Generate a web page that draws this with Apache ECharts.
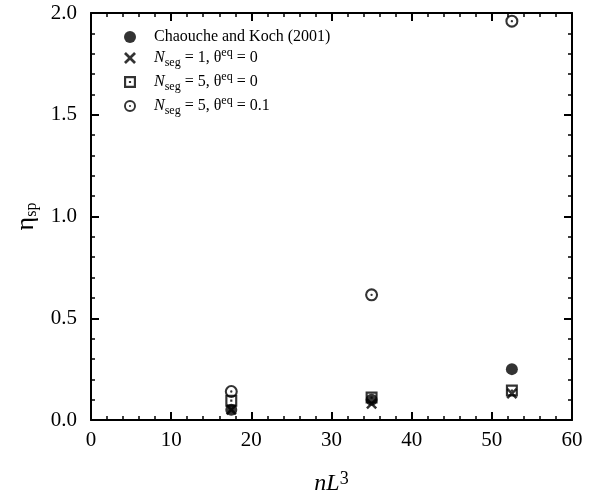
<!DOCTYPE html>
<html>
<head>
<meta charset="utf-8">
<script src="https://cdn.jsdelivr.net/npm/echarts@6/dist/echarts.min.js"></script>
<style>
  html, body { margin: 0; padding: 0; background: #fff; }
  #main { width: 591px; height: 501px; }
</style>
</head>
<body>
<div id="main"></div>
<script>
// data
var nL3 = [17.5, 35, 52.5];
var chaouche = [0.05, 0.10, 0.25];
var seg1 = [0.05, 0.08, 0.13];
var seg5 = [0.095, 0.11, 0.145];
var seg5theta = [0.14, 0.615, 1.96];

var xTicks = [0, 10, 20, 30, 40, 50, 60];
var yTicks = [0, 0.5, 1.0, 1.5, 2.0];

// marker shapes
var crossPath = "path://M0,1.6 L1.6,0 L5,3.4 L8.4,0 L10,1.6 L6.6,5 L10,8.4 L8.4,10 L5,6.6 L1.6,10 L0,8.4 L3.4,5 Z";
var boxDotPath = "path://M0,0 L10,0 L10,10 L0,10 Z M1.8,1.8 L1.8,8.2 L8.2,8.2 L8.2,1.8 Z M4.1,4.1 L5.9,4.1 L5.9,5.9 L4.1,5.9 Z";
var ringDotPath = "path://M5,0 A5,5 0 1,1 5,10 A5,5 0 1,1 5,0 Z M5,1.6 A3.4,3.4 0 1,0 5,8.4 A3.4,3.4 0 1,0 5,1.6 Z M5,4.1 A0.9,0.9 0 1,1 5,5.9 A0.9,0.9 0 1,1 5,4.1 Z";

function pts(ys) {
  return nL3.map(function (x, i) { return [x, ys[i]]; });
}

var serif = "Liberation Serif";
var names = ["chaouche", "seg1", "seg5", "seg5theta"];
var legendText = {
  chaouche: "{g| }{t|Chaouche and Koch (2001)}",
  seg1: "{g| }{i|N}{sub|seg}{t| = 1, θ}{sup|eq}{t| = 0}",
  seg5: "{g| }{i|N}{sub|seg}{t| = 5, θ}{sup|eq}{t| = 0}",
  seg5theta: "{g| }{i|N}{sub|seg}{t| = 5, θ}{sup|eq}{t| = 0.1}"
};

var axisBase = {
  axisLine: { onZero: false, lineStyle: { color: "#000", width: 2 } },
  axisTick: { inside: true, length: 8, lineStyle: { color: "#000", width: 2 } },
  minorTick: { show: true, splitNumber: 5, length: 4, lineStyle: { color: "#000", width: 1.5 } },
  splitLine: { show: false }
};

var chart = echarts.init(document.getElementById("main"));

option = {
  animation: false,
  backgroundColor: "#fff",
  grid: { left: 91, right: 19, top: 13, bottom: 77 },
  legend: {
    orient: "vertical",
    left: 119,
    top: 24,
    itemGap: 2,
    itemWidth: 12,
    itemHeight: 12,
    data: names,
    formatter: function (n) { return legendText[n]; },
    textStyle: {
      color: "#000",
      fontFamily: serif,
      fontSize: 16,
      rich: {
        g: { width: 13, fontSize: 16, lineHeight: 22 },
        t: { fontFamily: serif, fontSize: 16, lineHeight: 22, color: "#000" },
        i: { fontFamily: serif, fontSize: 16, lineHeight: 22, fontStyle: "italic", color: "#000" },
        sub: { fontFamily: serif, fontSize: 12, lineHeight: 12, color: "#000", verticalAlign: "bottom" },
        sup: { fontFamily: serif, fontSize: 12, lineHeight: 12, color: "#000", verticalAlign: "top" }
      }
    }
  },
  xAxis: [
    Object.assign({}, axisBase, {
      type: "value", min: 0, max: 60, interval: 10, position: "bottom",
      axisLabel: { margin: 10, color: "#000", fontFamily: serif, fontSize: 21,
        formatter: function (v) { return xTicks.indexOf(v) >= 0 ? String(v) : ""; } },
      name: "{i|nL}{s|3}",
      nameLocation: "middle",
      nameGap: 50,
      nameTextStyle: {
        rich: {
          i: { fontFamily: serif, fontSize: 24, fontStyle: "italic", color: "#000", lineHeight: 28 },
          s: { fontFamily: serif, fontSize: 18, color: "#000", verticalAlign: "top", lineHeight: 14 }
        }
      }
    }),
    Object.assign({}, axisBase, {
      type: "value", min: 0, max: 60, interval: 10, position: "top",
      axisLabel: { show: false }
    })
  ],
  yAxis: [
    Object.assign({}, axisBase, {
      type: "value", min: 0, max: 2, interval: 0.5, position: "left",
      axisLabel: { margin: 14, color: "#000", fontFamily: serif, fontSize: 21,
        formatter: function (v) { return v.toFixed(1); } },
      name: "{a|η}{b|sp}",
      nameLocation: "middle",
      nameRotate: 90,
      nameGap: 47,
      nameTextStyle: {
        rich: {
          a: { fontFamily: serif, fontSize: 26, color: "#000", lineHeight: 28 },
          b: { fontFamily: serif, fontSize: 16, color: "#000", verticalAlign: "bottom", lineHeight: 14 }
        }
      }
    }),
    Object.assign({}, axisBase, {
      type: "value", min: 0, max: 2, interval: 0.5, position: "right",
      axisLabel: { show: false }
    })
  ],
  series: [
    { name: "chaouche", type: "scatter", data: pts(chaouche), symbol: "circle", symbolSize: 12,
      itemStyle: { color: "#000" }, z: 3 },
    { name: "seg1", type: "scatter", data: pts(seg1), symbol: crossPath, symbolSize: 11,
      itemStyle: { color: "#000" }, z: 4 },
    { name: "seg5", type: "scatter", data: pts(seg5), symbol: boxDotPath, symbolSize: 12,
      itemStyle: { color: "#000" }, z: 5 },
    { name: "seg5theta", type: "scatter", data: pts(seg5theta), symbol: ringDotPath, symbolSize: 13,
      itemStyle: { color: "#000" }, z: 6 }
  ]
};

chart.setOption(option);
</script>
</body>
</html>
